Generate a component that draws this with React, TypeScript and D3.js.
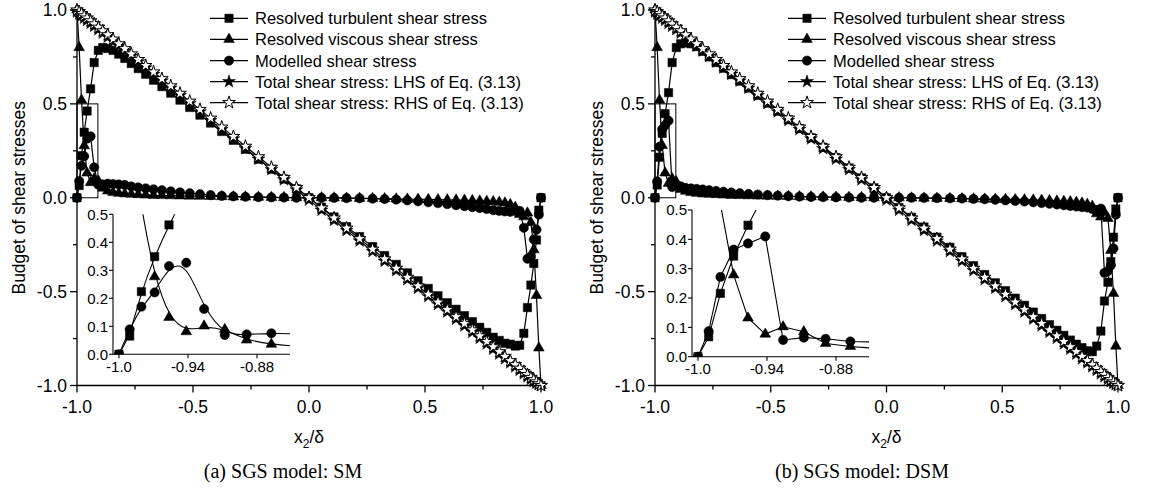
import React from "react";
import * as d3 from "d3";

// ---------- data ----------
const X_GRID = [-1.0, -0.9907, -0.9805, -0.969, -0.9565, -0.9415, -0.926, -0.908, -0.889, -0.8675, -0.8445, -0.82, -0.794, -0.766, -0.736, -0.704, -0.67, -0.634, -0.596, -0.556, -0.514, -0.47, -0.424, -0.376, -0.326, -0.274, -0.218, -0.162, -0.108, -0.054, 0.0, 0.054, 0.108, 0.162, 0.218, 0.274, 0.326, 0.376, 0.424, 0.47, 0.514, 0.556, 0.596, 0.634, 0.67, 0.704, 0.736, 0.766, 0.794, 0.82, 0.8445, 0.8675, 0.889, 0.908, 0.926, 0.9415, 0.9565, 0.969, 0.9805, 0.9907, 1.0];

const TOTAL_LHS = [0.99, 0.979, 0.968, 0.957, 0.945, 0.93, 0.914, 0.896, 0.877, 0.856, 0.833, 0.808, 0.782, 0.754, 0.724, 0.692, 0.658, 0.622, 0.584, 0.544, 0.502, 0.458, 0.412, 0.364, 0.314, 0.262, 0.206, 0.15, 0.096, 0.042, -0.012, -0.066, -0.12, -0.174, -0.23, -0.286, -0.338, -0.388, -0.436, -0.482, -0.526, -0.568, -0.608, -0.646, -0.682, -0.716, -0.748, -0.778, -0.806, -0.832, -0.857, -0.879, -0.9, -0.919, -0.937, -0.953, -0.967, -0.978, -0.988, -0.995, -1.0];
const TOTAL_RHS = [1.0, 0.991, 0.981, 0.969, 0.957, 0.942, 0.926, 0.908, 0.889, 0.868, 0.845, 0.82, 0.794, 0.766, 0.736, 0.704, 0.67, 0.634, 0.596, 0.556, 0.514, 0.47, 0.424, 0.376, 0.326, 0.274, 0.218, 0.162, 0.108, 0.054, 0.0, -0.054, -0.108, -0.162, -0.218, -0.274, -0.326, -0.376, -0.424, -0.47, -0.514, -0.556, -0.596, -0.634, -0.67, -0.704, -0.736, -0.766, -0.794, -0.82, -0.845, -0.868, -0.889, -0.908, -0.926, -0.942, -0.957, -0.969, -0.981, -0.991, -1.0];

const SM_TURB = [0, 0.065, 0.224, 0.349, 0.462, 0.58, 0.72, 0.785, 0.8, 0.795, 0.785, 0.765, 0.742, 0.715, 0.688, 0.658, 0.626, 0.592, 0.557, 0.52, 0.481, 0.44, 0.398, 0.353, 0.306, 0.258, 0.205, 0.152, 0.1, 0.048, 0.0, -0.05, -0.102, -0.154, -0.207, -0.26, -0.308, -0.355, -0.4, -0.442, -0.483, -0.522, -0.559, -0.594, -0.628, -0.66, -0.69, -0.717, -0.743, -0.76, -0.775, -0.78, -0.79, -0.786, -0.722, -0.585, -0.465, -0.35, -0.225, -0.066, 0.0];
const SM_VISC = [1.0, 0.8, 0.52, 0.277, 0.132, 0.081, 0.101, 0.089, 0.051, 0.036, 0.028, 0.024, 0.021, 0.019, 0.017, 0.015, 0.013, 0.012, 0.011, 0.01, 0.009, 0.008, 0.007, 0.006, 0.005, 0.004, 0.003, 0.002, 0.001, 0.0, 0.0, 0.0, -0.001, -0.002, -0.003, -0.004, -0.005, -0.006, -0.007, -0.008, -0.009, -0.01, -0.011, -0.012, -0.013, -0.015, -0.017, -0.019, -0.021, -0.024, -0.028, -0.036, -0.051, -0.089, -0.101, -0.081, -0.132, -0.277, -0.52, -0.8, -1.0];
const SM_MODEL = [0, 0.089, 0.17, 0.221, 0.315, 0.327, 0.162, 0.069, 0.071, 0.075, 0.073, 0.071, 0.068, 0.06, 0.055, 0.05, 0.045, 0.04, 0.034, 0.029, 0.024, 0.019, 0.014, 0.01, 0.007, 0.005, 0.003, 0.002, 0.001, 0.0, 0.0, 0.0, -0.001, -0.002, -0.003, -0.005, -0.007, -0.01, -0.014, -0.019, -0.024, -0.029, -0.034, -0.04, -0.045, -0.05, -0.055, -0.06, -0.066, -0.07, -0.073, -0.075, -0.071, -0.07, -0.16, -0.325, -0.315, -0.222, -0.17, -0.09, 0.0];

const DSM_TURB = [0, 0.068, 0.216, 0.343, 0.448, 0.56, 0.72, 0.8, 0.82, 0.825, 0.82, 0.805, 0.78, 0.75, 0.72, 0.69, 0.656, 0.621, 0.584, 0.545, 0.504, 0.461, 0.416, 0.369, 0.32, 0.269, 0.214, 0.159, 0.106, 0.053, 0.0, -0.052, -0.104, -0.156, -0.21, -0.264, -0.314, -0.362, -0.409, -0.453, -0.495, -0.535, -0.573, -0.609, -0.643, -0.676, -0.706, -0.733, -0.758, -0.78, -0.798, -0.815, -0.82, -0.79, -0.71, -0.55, -0.45, -0.34, -0.21, -0.06, 0.0];
const DSM_VISC = [1.0, 0.8, 0.52, 0.279, 0.132, 0.077, 0.102, 0.085, 0.045, 0.035, 0.028, 0.024, 0.021, 0.019, 0.017, 0.015, 0.013, 0.012, 0.011, 0.01, 0.009, 0.008, 0.007, 0.006, 0.005, 0.004, 0.003, 0.002, 0.001, 0.0, 0.0, 0.0, -0.001, -0.002, -0.003, -0.004, -0.005, -0.006, -0.007, -0.008, -0.009, -0.01, -0.011, -0.012, -0.013, -0.015, -0.017, -0.019, -0.021, -0.024, -0.028, -0.035, -0.045, -0.085, -0.102, -0.078, -0.11, -0.28, -0.51, -0.79, -1.0];
const DSM_MODEL = [0, 0.087, 0.272, 0.365, 0.386, 0.41, 0.057, 0.065, 0.061, 0.052, 0.05, 0.047, 0.044, 0.04, 0.036, 0.032, 0.028, 0.024, 0.02, 0.017, 0.014, 0.011, 0.008, 0.006, 0.004, 0.003, 0.002, 0.001, 0.0, 0.0, 0.0, 0.0, 0.0, -0.001, -0.002, -0.003, -0.004, -0.006, -0.008, -0.011, -0.014, -0.017, -0.02, -0.024, -0.028, -0.032, -0.036, -0.04, -0.044, -0.047, -0.05, -0.052, -0.06, -0.065, -0.058, -0.4, -0.39, -0.36, -0.27, -0.09, 0.0];

const LEGEND_LABELS = [
  "Resolved turbulent shear stress",
  "Resolved viscous shear stress",
  "Modelled shear stress",
  "Total shear stress: LHS of Eq. (3.13)",
  "Total shear stress: RHS of Eq. (3.13)",
];
const SHAPES = ["square", "triangle", "circle", "star", "starOpen"];

const MAIN_TICKS = [-1, -0.5, 0, 0.5, 1];
const MAIN_TICK_LABELS = ["-1.0", "-0.5", "0.0", "0.5", "1.0"];
const MAIN_MINOR = [-0.75, -0.25, 0.25, 0.75];
const INSET_X_TICKS = [-1.0, -0.94, -0.88];
const INSET_X_LABELS = ["-1.0", "-0.94", "-0.88"];
const INSET_Y_TICKS = [0, 0.1, 0.2, 0.3, 0.4, 0.5];
const INSET_Y_LABELS = ["0.0", "0.1", "0.2", "0.3", "0.4", "0.5"];
const INSET_X_DOMAIN = [-1.0052, -0.8513];
const BOX = { x0: -1.0, x1: -0.91, y0: 0, y1: 0.5 };

const Y_TITLE = "Budget of shear stresses";
const CAPTIONS = ["(a) SGS model: SM", "(b) SGS model: DSM"];

// ---------- layout ----------
const FONT = "'Liberation Sans', Arial, Helvetica, sans-serif";
const PANELS = [
  { id: "a", x0: 77, x1: 541, insetX: [113, 290], insetY: [354.3, 214.3], curve: d3.curveBasis, caption: CAPTIONS[0], capX: 283, series: [SM_TURB, SM_VISC, SM_MODEL, TOTAL_LHS, TOTAL_RHS] },
  { id: "b", x0: 655, x1: 1118, insetX: [692, 869], insetY: [356.7, 210], curve: d3.curveLinear, caption: CAPTIONS[1], capX: 862, series: [DSM_TURB, DSM_VISC, DSM_MODEL, TOTAL_LHS, TOTAL_RHS] },
];
const Y_TOP = 10;
const Y_BOT = 385.5;

const SYM: Record<string, string> = {
  square: d3.symbol().type(d3.symbolSquare).size(70)() as string,
  triangle: d3.symbol().type(d3.symbolTriangle).size(50)() as string,
  circle: d3.symbol().type(d3.symbolCircle).size(68)() as string,
  star: d3.symbol().type(d3.symbolStar).size(52)() as string,
  starOpen: d3.symbol().type(d3.symbolStar).size(50)() as string,
};

function Marker({ shape, x, y }: { shape: string; x: number; y: number }) {
  const open = shape === "starOpen";
  return (
    <path
      d={SYM[shape]}
      transform={`translate(${x},${y})`}
      fill={open ? "#fff" : "#000"}
      stroke="#000"
      strokeWidth={open ? 1 : 0.5}
    />
  );
}

function Panel({ p }: { p: (typeof PANELS)[number] }) {
  const x = d3.scaleLinear().domain([-1, 1]).range([p.x0, p.x1]);
  const y = d3.scaleLinear().domain([-1, 1]).range([Y_BOT, Y_TOP]);
  const xi = d3.scaleLinear().domain(INSET_X_DOMAIN).range(p.insetX);
  const yi = d3.scaleLinear().domain([0, 0.5]).range(p.insetY);
  const mainLine = d3.line<number>().x((_, i) => x(X_GRID[i])).y((v) => y(v));
  const insetLine = d3.line<number>().x((_, i) => xi(X_GRID[i])).y((v) => yi(v)).curve(p.curve);
  const clipId = `clip-${p.id}`;
  const legX = p.x0 + 133;
  const legendRows = [18.3, 39.3, 60.6, 81.6, 102.6];
  const xc = x(0);
  const TF = 17.5;

  return (
    <g>
      {/* main series */}
      {p.series.map((vals, si) => (
        <g key={si}>
          <path d={mainLine(vals) as string} fill="none" stroke="#000" strokeWidth={1.2} />
          {vals.map((v, i) => (
            <Marker key={i} shape={SHAPES[si]} x={x(X_GRID[i])} y={y(v)} />
          ))}
        </g>
      ))}

      {/* axes */}
      <line x1={p.x0} x2={p.x0} y1={Y_TOP} y2={Y_BOT} stroke="#000" strokeWidth={1.3} />
      <line x1={p.x0} x2={p.x1} y1={Y_BOT} y2={Y_BOT} stroke="#000" strokeWidth={1.3} />
      {MAIN_TICKS.map((t, i) => (
        <g key={"y" + i}>
          <line x1={p.x0 - 7} x2={p.x0} y1={y(t)} y2={y(t)} stroke="#000" strokeWidth={1.3} />
          <text x={p.x0 - 10} y={y(t) + 6.3} textAnchor="end" fontSize={TF} fontFamily={FONT}>
            {MAIN_TICK_LABELS[i]}
          </text>
          <line x1={x(t)} x2={x(t)} y1={Y_BOT} y2={Y_BOT + 7} stroke="#000" strokeWidth={1.3} />
          <text x={x(t)} y={412.5} textAnchor="middle" fontSize={TF} fontFamily={FONT}>
            {MAIN_TICK_LABELS[i]}
          </text>
        </g>
      ))}
      {MAIN_MINOR.map((t, i) => (
        <g key={"m" + i}>
          <line x1={p.x0 - 4} x2={p.x0} y1={y(t)} y2={y(t)} stroke="#000" strokeWidth={1.3} />
          <line x1={x(t)} x2={x(t)} y1={Y_BOT} y2={Y_BOT + 4} stroke="#000" strokeWidth={1.3} />
        </g>
      ))}
      <text
        transform={`translate(${p.x0 - 52},${y(0)}) rotate(-90)`}
        textAnchor="middle"
        fontSize={17.5}
        fontFamily={FONT}
      >
        {Y_TITLE}
      </text>
      <text x={xc} y={443} textAnchor="middle" fontSize={TF} fontFamily={FONT}>
        x<tspan dy={5} fontSize={12}>2</tspan>
        <tspan dy={-5}>/δ</tspan>
      </text>

      {/* zoom box */}
      <rect
        x={x(BOX.x0)}
        y={y(BOX.y1)}
        width={x(BOX.x1) - x(BOX.x0)}
        height={y(BOX.y0) - y(BOX.y1)}
        fill="none"
        stroke="#000"
        strokeWidth={1}
      />

      {/* legend */}
      {LEGEND_LABELS.map((lab, i) => (
        <g key={"l" + i}>
          <line x1={legX} x2={legX + 38} y1={legendRows[i]} y2={legendRows[i]} stroke="#000" strokeWidth={1.2} />
          <Marker shape={SHAPES[i]} x={legX + 19} y={legendRows[i]} />
          <text x={legX + 45} y={legendRows[i] + 6} fontSize={16.5} fontFamily={FONT}>
            {lab}
          </text>
        </g>
      ))}

      {/* inset */}
      <defs>
        <clipPath id={clipId}>
          <rect x={p.insetX[0]} y={p.insetY[1]} width={p.insetX[1] - p.insetX[0]} height={p.insetY[0] - p.insetY[1]} />
        </clipPath>
      </defs>
      <g clipPath={`url(#${clipId})`}>
        {p.series.slice(0, 3).map((vals, si) => (
          <g key={"i" + si}>
            <path d={insetLine(vals) as string} fill="none" stroke="#000" strokeWidth={1.1} />
            {vals.map((v, i) =>
              X_GRID[i] < INSET_X_DOMAIN[1] + 0.01 ? (
                <Marker key={i} shape={SHAPES[si]} x={xi(X_GRID[i])} y={yi(v)} />
              ) : null
            )}
          </g>
        ))}
      </g>
      <line x1={p.insetX[0]} x2={p.insetX[0]} y1={p.insetY[0]} y2={p.insetY[1]} stroke="#000" strokeWidth={1.1} />
      <line x1={p.insetX[0]} x2={p.insetX[1]} y1={p.insetY[0]} y2={p.insetY[0]} stroke="#000" strokeWidth={1.1} />
      {INSET_Y_TICKS.map((t, i) => (
        <g key={"iy" + i}>
          <line x1={p.insetX[0] - 4} x2={p.insetX[0]} y1={yi(t)} y2={yi(t)} stroke="#000" strokeWidth={1.1} />
          <text x={p.insetX[0] - 5} y={yi(t) + 5.3} textAnchor="end" fontSize={15} fontFamily={FONT}>
            {INSET_Y_LABELS[i]}
          </text>
        </g>
      ))}
      {INSET_X_TICKS.map((t, i) => (
        <g key={"ix" + i}>
          <line x1={xi(t)} x2={xi(t)} y1={p.insetY[0]} y2={p.insetY[0] + 4} stroke="#000" strokeWidth={1.1} />
          <text x={xi(t)} y={p.insetY[0] + 17.5} textAnchor="middle" fontSize={15} fontFamily={FONT}>
            {INSET_X_LABELS[i]}
          </text>
        </g>
      ))}

      {/* caption */}
      <text x={p.capX} y={478} textAnchor="middle" fontSize={20} fontFamily="'Liberation Serif', 'Times New Roman', serif">
        {p.caption}
      </text>
    </g>
  );
}

export default function App() {
  return (
    <svg
      width={1149}
      height={497}
      viewBox="0 0 1149 497"
      style={{ position: "absolute", left: 0, top: 0, background: "#fff" }}
    >
      <rect x={0} y={0} width={1149} height={497} fill="#fff" />
      {PANELS.map((p) => (
        <Panel key={p.id} p={p} />
      ))}
    </svg>
  );
}
